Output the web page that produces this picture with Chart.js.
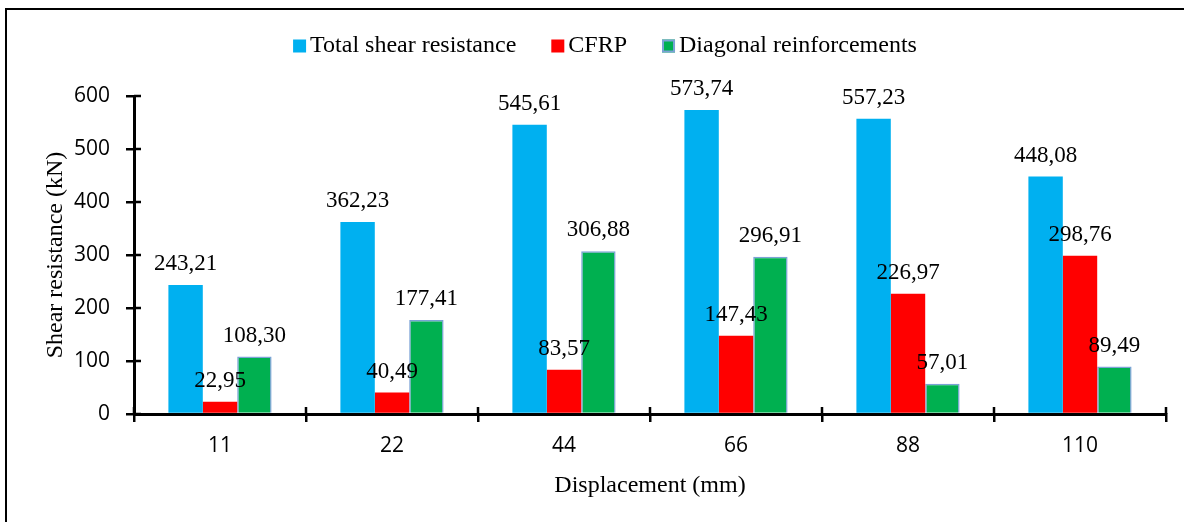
<!DOCTYPE html>
<html>
<head>
<meta charset="utf-8">
<title>Shear resistance vs displacement</title>
<script src="https://cdn.jsdelivr.net/npm/chart.js@4/dist/chart.umd.min.js"></script>
<style>
  html, body { margin: 0; padding: 0; background: #fff; overflow: hidden; }
  #wrap { position: relative; width: 1184px; height: 522px; }
  #frame {
    position: absolute; left: 5px; top: 8px; width: 1300px; height: 700px;
    border: 2px solid #000; pointer-events: none;
  }
  canvas { position: absolute; left: 0; top: 0; }
</style>
</head>
<body>
<div id="wrap">
  <div id="frame"></div>
  <canvas id="chart" width="1184" height="522"></canvas>
</div>
<script>
// Displacement steps (mm)
const categories = ['11', '22', '44', '66', '88', '110'];

// Shear resistance components (kN)
const totalShear = [243.21, 362.23, 545.61, 573.74, 557.23, 448.08];
const cfrp = [22.95, 40.49, 83.57, 147.43, 226.97, 298.76];
const diagonal = [108.30, 177.41, 306.88, 296.91, 57.01, 89.49];

// Value axis ticks
const yTicks = [0, 100, 200, 300, 400, 500, 600];

const serif = '"Liberation Serif", "Times New Roman", serif';
const sans = '"Open Sans", "Noto Sans", sans-serif';

const fmt = v => v.toFixed(2).replace('.', ',');

// Value labels above each bar, comma as decimal separator
const valueLabels = {
  id: 'valueLabels',
  afterDatasetsDraw(chart) {
    const ctx = chart.ctx;
    ctx.save();
    ctx.font = '23px ' + serif;
    ctx.fillStyle = '#000';
    ctx.textAlign = 'center';
    ctx.textBaseline = 'alphabetic';
    chart.data.datasets.forEach((ds, i) => {
      chart.getDatasetMeta(i).data.forEach((bar, j) => {
        ctx.fillText(fmt(ds.data[j]), bar.x, bar.y - 15);
      });
    });
    ctx.restore();
  }
};

// Tick marks that cross both axis lines
const crossTicks = {
  id: 'crossTicks',
  afterDraw(chart) {
    const ctx = chart.ctx;
    const x = chart.scales.x, y = chart.scales.y;
    ctx.save();
    ctx.strokeStyle = '#000';
    ctx.lineWidth = 2.5;
    ctx.beginPath();
    y.ticks.forEach((t, i) => {
      const py = Math.round(y.getPixelForTick(i));
      ctx.moveTo(y.right, py);
      ctx.lineTo(y.right + 7, py);
    });
    const n = x.ticks.length;
    const step = (x.right - x.left) / n;
    for (let i = 0; i <= n; i++) {
      const px = Math.round(x.left + i * step);
      ctx.moveTo(px, x.top);
      ctx.lineTo(px, x.top - 7);
    }
    ctx.stroke();
    ctx.restore();
  }
};

// Legend row across the top
const topLegend = {
  id: 'topLegend',
  afterDraw(chart) {
    const ctx = chart.ctx;
    const box = 13, gap = 4, itemGap = 35, centerX = 605, centerY = 46;
    ctx.save();
    ctx.font = '24px ' + serif;
    ctx.textBaseline = 'middle';
    ctx.textAlign = 'left';
    const items = chart.data.datasets.map(ds => ({
      ds, w: box + gap + ctx.measureText(ds.label).width
    }));
    const total = items.reduce((s, it) => s + it.w, 0) + itemGap * (items.length - 1);
    let x = centerX - total / 2;
    items.forEach(it => {
      ctx.fillStyle = it.ds.backgroundColor;
      ctx.fillRect(x, centerY - box / 2, box, box);
      if (it.ds.borderWidth) {
        ctx.strokeStyle = it.ds.borderColor;
        ctx.lineWidth = 2;
        ctx.strokeRect(x + 1, centerY - box / 2 + 1, box - 2, box - 2);
      }
      ctx.fillStyle = '#000';
      ctx.fillText(it.ds.label, x + box + gap, centerY);
      x += it.w + itemGap;
    });
    ctx.restore();
  }
};

new Chart(document.getElementById('chart'), {
  type: 'bar',
  data: {
    labels: categories,
    datasets: [
      { label: 'Total shear resistance', data: totalShear, backgroundColor: '#00B0F0', borderWidth: 0 },
      { label: 'CFRP', data: cfrp, backgroundColor: '#FF0000', borderWidth: 0 },
      { label: 'Diagonal reinforcements', data: diagonal, backgroundColor: '#00B050',
        borderColor: '#7BA2D6', borderWidth: 1.5 }
    ]
  },
  options: {
    responsive: false,
    animation: false,
    layout: { padding: { top: 96, right: 18, left: 0, bottom: 0 } },
    datasets: { bar: { categoryPercentage: 0.6, barPercentage: 1.0 } },
    plugins: { legend: { display: false }, tooltip: { enabled: false } },
    scales: {
      x: {
        afterFit: s => { s.height = 108; },
        grid: { display: true, drawOnChartArea: false, drawTicks: true, tickLength: 8,
                color: '#000', lineWidth: 2.5, offset: true },
        border: { display: true, color: '#000', width: 3 },
        ticks: { color: '#000', font: { family: sans, size: 21 }, padding: 11 },
        title: { display: true, text: 'Displacement (mm)', color: '#000',
                 font: { family: serif, size: 24 }, padding: { bottom: 22, top: 0 } }
      },
      y: {
        min: 0, max: 600,
        afterFit: s => { s.width = 134; },
        afterBuildTicks: s => { s.ticks = yTicks.map(v => ({ value: v })); },
        grid: { display: true, drawOnChartArea: false, drawTicks: true, tickLength: 8,
                color: '#000', lineWidth: 2.5 },
        border: { display: true, color: '#000', width: 3 },
        ticks: { color: '#000', font: { family: sans, size: 21 }, padding: 16 },
        title: { display: true, text: 'Shear resistance (kN)', color: '#000',
                 font: { family: serif, size: 24 }, padding: { top: 41, bottom: 0 } }
      }
    }
  },
  plugins: [valueLabels, crossTicks, topLegend]
});
</script>
</body>
</html>
